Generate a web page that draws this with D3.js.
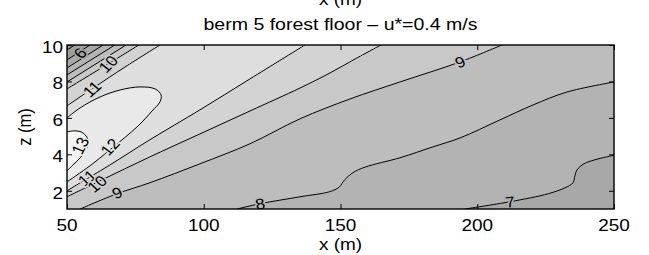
<!DOCTYPE html>
<html>
<head>
<meta charset="utf-8">
<script src="https://cdn.jsdelivr.net/npm/d3@7"></script>
<style>
  body { margin: 0; background: #ffffff; }
  svg text { font-family: "Liberation Sans", Arial, Helvetica, sans-serif; fill: #000; }
</style>
</head>
<body>
<div id="main_output"></div>
<script>
// contour lines of u (m/s), read off the picture as x (m) / z (m)
// lower-right side
const l7x = [195.5, 212, 226, 232, 235, 235.7, 236.5, 239, 243, 250];
const l7z = [1.0, 1.4, 1.84, 2.16, 2.44, 2.82, 3.15, 3.48, 3.7, 3.95];
const l8x = [112.2, 120.6, 135.2, 146, 149.5, 151.5, 154.6, 159, 171.7, 183.8, 193.7, 208.3, 220.4, 232.8, 250];
const l8z = [1.0, 1.29, 1.67, 1.95, 2.2, 2.6, 3.0, 3.3, 3.81, 4.41, 4.9, 5.89, 6.71, 7.42, 7.97];
const l9x = [54.8, 68.3, 80.3, 98.6, 116.9, 135.2, 153.5, 171.7, 193.7, 209];
const l9z = [1.0, 1.84, 2.44, 3.48, 4.58, 5.95, 7.04, 7.97, 9.07, 10];
const l10x = [50, 62.1, 80.3, 98.6, 116.9, 135.2, 146.2, 155.3, 164.8];
const l10z = [1.67, 2.55, 3.86, 5.12, 6.38, 7.64, 8.47, 9.23, 10];
const l11x = [50, 65.7, 80.3, 98.6, 116.9, 137];
const l11z = [2.0, 3.42, 4.8, 6.44, 8.14, 10];
// closed loops against the left edge
const l12x = [50, 54.8, 62.1, 69.4, 76.7, 82.2, 84.4, 84, 81.1, 76, 65.7, 58.4, 50];
const l12z = [6.0, 6.55, 7.15, 7.53, 7.7, 7.59, 7.26, 6.88, 6.38, 5.56, 4.25, 3.37, 2.49];
const l13x = [50, 52.9, 55.8, 57.7, 57.3, 54.8, 52.2, 50];
const l13z = [5.23, 5.29, 5.18, 4.79, 4.36, 3.81, 3.42, 3.1];
// top-left corner
const u11x = [50, 59.1, 71.2, 84];
const u11z = [6.66, 7.59, 8.79, 10];
const u10x = [50, 65, 76.3];
const u10z = [7.59, 8.96, 10];
const u9x = [50, 71.6];
const u9z = [7.97, 10];
const u8x = [50, 67.5];
const u8z = [8.36, 10];
const u7x = [50, 63.2];
const u7z = [8.74, 10];
const u6x = [50, 58.4];
const u6z = [9.18, 10];
const u5x = [50, 52.9];
const u5z = [9.73, 10];

// contour labels
const labText = ["6", "10", "11", "13", "12", "11", "10", "9", "9", "8", "7"];
const labX = [54.8, 65, 59.1, 54.8, 65.7, 57.3, 61, 68.3, 193.7, 120.6, 212];
const labZ = [9.56, 8.96, 7.59, 4.47, 4.41, 2.71, 2.38, 1.89, 9.07, 1.29, 1.4];
const labAngle = [-50, -48, -45, -65, -50, -42, -42, -22, -22, -10, -8];

const xTicks = [50, 100, 150, 200, 250];
const zTicks = [2, 4, 6, 8, 10];

// grey levels, band below 5 up to band above 13
const bandColours = ["#949494", "#9e9e9e", "#a8a8a8", "#b3b3b3", "#bdbdbd",
                     "#c8c8c8", "#d3d3d3", "#dedede", "#e9e9e9", "#f5f5f5"];
function band(lev) { return bandColours[Math.max(0, lev - 4)]; }

const W = 649, H = 255;
const margin = {top: 45, right: 35, bottom: 46, left: 67};
const width = W - margin.left - margin.right,
      height = H - margin.top - margin.bottom;
const stretch = 1.15; // text in the picture is a little wide

const x = d3.scaleLinear().domain([50, 250]).range([0, width]);
const y = d3.scaleLinear().domain([1, 10]).range([height, 0]);

const svg = d3.select("#main_output").append("svg")
  .attr("width", W).attr("height", H);

const g = svg.append("g")
  .attr("transform", "translate(" + margin.left + "," + margin.top + ")");

g.append("clipPath").attr("id", "plotclip")
  .append("rect").attr("width", width).attr("height", height);

const plot = g.append("g").attr("clip-path", "url(#plotclip)");

const zip = (xs, zs) => xs.map((v, i) => [v, zs[i]]);
const lineGen = d3.line()
  .x(d => x(d[0])).y(d => y(d[1]))
  .curve(d3.curveCatmullRom.alpha(0.5));

const xmin = x.domain()[0], xmax = x.domain()[1];
const zmin = y.domain()[0], zmax = y.domain()[1];

function areaPath(pts, corners) {
  let p = lineGen(pts);
  corners.forEach(c => { p += "L" + x(c[0]) + "," + y(c[1]); });
  return p + "Z";
}

// painter order: each polygon paints the band on its side of the line
const fills = [
  {pts: zip(l9x, l9z), corners: [[xmax, zmax], [xmax, zmin]], lev: 8},
  {pts: zip(l8x, l8z), corners: [[xmax, zmin]], lev: 7},
  {pts: zip(l7x, l7z), corners: [[xmax, zmin]], lev: 6},
  {pts: zip(l10x, l10z), corners: [[xmin, zmax]], lev: 10},
  {pts: zip(l11x, l11z), corners: [[xmin, zmax]], lev: 11},
  {pts: zip(l12x, l12z), corners: [], lev: 12},
  {pts: zip(l13x, l13z), corners: [], lev: 13},
  {pts: zip(u11x, u11z), corners: [[xmin, zmax]], lev: 10},
  {pts: zip(u10x, u10z), corners: [[xmin, zmax]], lev: 9},
  {pts: zip(u9x, u9z), corners: [[xmin, zmax]], lev: 8},
  {pts: zip(u8x, u8z), corners: [[xmin, zmax]], lev: 7},
  {pts: zip(u7x, u7z), corners: [[xmin, zmax]], lev: 6},
  {pts: zip(u6x, u6z), corners: [[xmin, zmax]], lev: 5},
  {pts: zip(u5x, u5z), corners: [[xmin, zmax]], lev: 4}
];

plot.append("rect")
  .attr("width", width).attr("height", height)
  .attr("fill", band(9));

plot.selectAll(".band")
  .data(fills)
  .enter().append("path")
  .attr("class", "band")
  .attr("d", d => areaPath(d.pts, d.corners))
  .attr("fill", d => band(d.lev))
  .attr("stroke", "none");

plot.selectAll(".cline")
  .data(fills)
  .enter().append("path")
  .attr("class", "cline")
  .attr("d", d => lineGen(d.pts))
  .attr("fill", "none")
  .attr("stroke", "#000")
  .attr("stroke-width", 1);

// contour labels, the halo breaks the line under the number
plot.selectAll(".clabel")
  .data(labText)
  .enter().append("text")
  .attr("class", "clabel")
  .attr("transform", (d, i) => "translate(" + x(labX[i]) + "," + y(labZ[i]) + ") scale(" + stretch + ",1) rotate(" + labAngle[i] + ")")
  .attr("text-anchor", "middle")
  .attr("dy", "0.36em")
  .attr("font-size", "15px")
  .attr("stroke", d => d3.interpolateRgb(band(+d - 1), band(+d))(0.5))
  .attr("stroke-width", 3)
  .attr("paint-order", "stroke")
  .text(d => d);

// axes: ticks pointing inwards on all four sides
const tick = 5;
g.append("g").attr("transform", "translate(0," + height + ")")
  .call(d3.axisBottom(x).tickValues(xTicks).tickSizeInner(-tick).tickSizeOuter(0).tickFormat(""));
g.append("g")
  .call(d3.axisTop(x).tickValues(xTicks).tickSizeInner(-tick).tickSizeOuter(0).tickFormat(""));
g.append("g")
  .call(d3.axisLeft(y).tickValues(zTicks).tickSizeInner(-tick).tickSizeOuter(0).tickFormat(""));
g.append("g").attr("transform", "translate(" + width + ",0)")
  .call(d3.axisRight(y).tickValues(zTicks).tickSizeInner(-tick).tickSizeOuter(0).tickFormat(""));
g.selectAll(".domain").remove();
g.selectAll(".tick line").attr("stroke", "#000").attr("stroke-width", 1);

g.append("rect")
  .attr("width", width).attr("height", height)
  .attr("fill", "none").attr("stroke", "#000").attr("stroke-width", 1.4);

// tick labels
g.selectAll(".xlab")
  .data(xTicks)
  .enter().append("text")
  .attr("class", "xlab")
  .attr("transform", d => "translate(" + x(d) + "," + (height + 22) + ") scale(" + stretch + ",1)")
  .attr("text-anchor", "middle")
  .attr("font-size", "16.5px")
  .text(d => d);

g.selectAll(".zlab")
  .data(zTicks)
  .enter().append("text")
  .attr("class", "zlab")
  .attr("transform", d => "translate(-4," + (y(d) + 8) + ") scale(" + stretch + ",1)")
  .attr("text-anchor", "end")
  .attr("font-size", "16.5px")
  .text(d => d);

// titles
svg.append("text")
  .attr("transform", "translate(" + (margin.left + width / 2) + "," + (H - 5) + ") scale(" + stretch + ",1)")
  .attr("text-anchor", "middle")
  .attr("font-size", "16.5px")
  .text("x (m)");

svg.append("text")
  .attr("transform", "translate(" + (margin.left + width / 2) + ",5) scale(" + stretch + ",1)")
  .attr("text-anchor", "middle")
  .attr("font-size", "16.5px")
  .text("x (m)");

svg.append("text")
  .attr("transform", "translate(" + (margin.left + width / 2) + ",30) scale(" + stretch + ",1)")
  .attr("text-anchor", "middle")
  .attr("font-size", "17px")
  .text("berm 5 forest floor \u2013 u*=0.4 m/s");

svg.append("text")
  .attr("transform", "translate(31," + (margin.top + height / 2) + ") scale(" + stretch + ",1) rotate(-90)")
  .attr("text-anchor", "middle")
  .attr("font-size", "16.5px")
  .text("z (m)");
</script>
</body>
</html>
